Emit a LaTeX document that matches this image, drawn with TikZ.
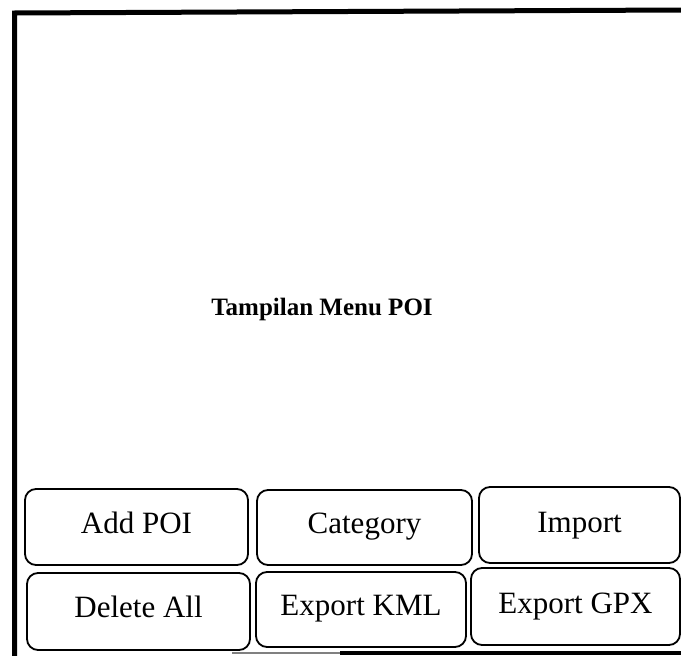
\documentclass[tikz,border=0pt]{standalone}
\usepackage{fontspec}
\setmainfont{Liberation Serif}
\begin{document}
\begin{tikzpicture}[x=1pt,y=-1pt,
  btn/.style={draw, line width=1.8pt, rounded corners=11pt, inner sep=0pt},
  frameline/.style={line width=5pt},
  lbl/.style={inner sep=0pt, anchor=base, font=\fontsize{31}{36}\selectfont}]
\useasboundingbox (0,0) rectangle (681,656);
% outer frame (cropped at right and bottom)
\coordinate (fbl) at (14.5,656);
\coordinate (ftl) at (14.5,13);
\coordinate (ftr) at (681,10);
\draw[frameline] (fbl) -- (ftl) -- (ftr);
\coordinate (bl) at (232,653);
\coordinate (bm) at (340,653);
\coordinate (br) at (681,653);
\draw[line width=1.5pt, gray] (bl) -- (bm);
\draw[line width=3.5pt] (bm) -- (br);
% title
\node[inner sep=0pt, anchor=base, font=\bfseries\fontsize{25}{30}\selectfont] (title) at (322,315) {Tampilan Menu POI};
% buttons row 1
\node[btn, minimum width=223pt, minimum height=76pt] (add) at (136.5,527) {};
\node[lbl] (addt) at ([yshift=-6pt]add.center) {Add POI};
\node[btn, minimum width=215pt, minimum height=75pt] (cat) at (364.5,527.5) {};
\node[lbl] (catt) at ([yshift=-5.5pt]cat.center) {Category};
\node[btn, minimum width=201pt, minimum height=76pt] (imp) at (579.5,525) {};
\node[lbl] (impt) at ([yshift=-7pt]imp.center) {Import};
% buttons row 2
\node[btn, minimum width=223pt, minimum height=77pt] (del) at (138.5,611.5) {};
\node[lbl] (delt) at ([yshift=-5.5pt]del.center) {Delete All};
\node[btn, minimum width=210pt, minimum height=75pt] (kml) at (361,609.5) {};
\node[lbl] (kmlt) at ([yshift=-5.5pt]kml.center) {Export KML};
\node[btn, minimum width=209pt, minimum height=77pt] (gpx) at (575.5,606.5) {};
\node[lbl] (gpxt) at ([yshift=-6.5pt]gpx.center) {Export GPX};
\end{tikzpicture}
\end{document}
